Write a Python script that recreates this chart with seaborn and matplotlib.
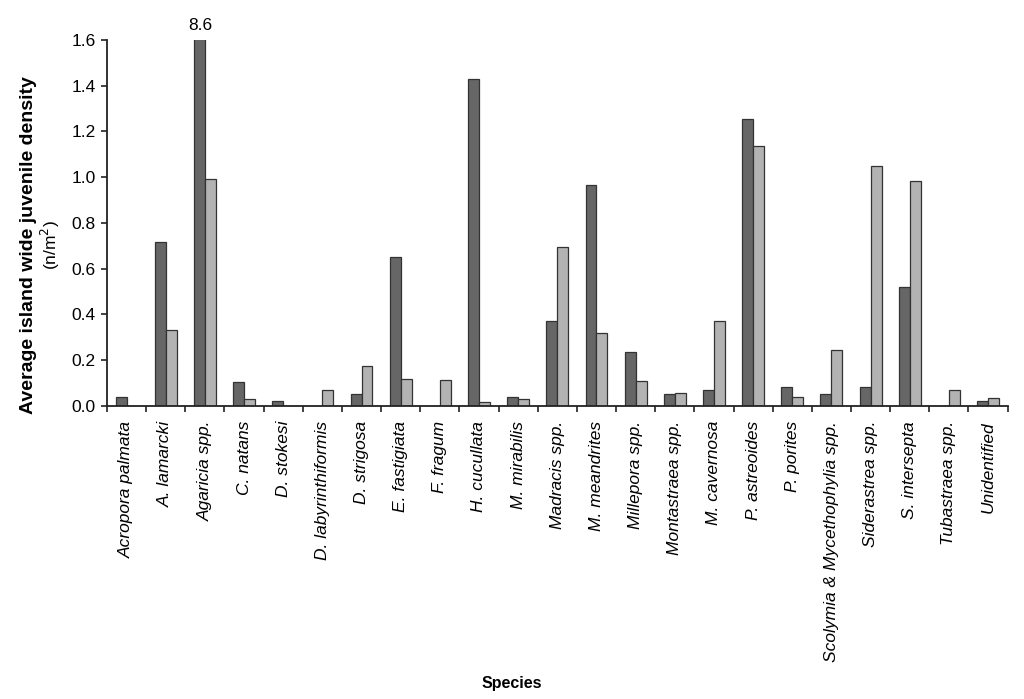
import matplotlib
matplotlib.use("Agg")
import matplotlib.pyplot as plt
import seaborn as sns
import pandas as pd
import numpy as np

species = ["Acropora palmata", "A. lamarcki", "Agaricia spp.", "C. natans", "D. stokesi",
           "D. labyrinthiformis", "D. strigosa", "E. fastigiata", "F. fragum", "H. cucullata",
           "M. mirabilis", "Madracis spp.", "M. meandrites", "Millepora spp.", "Montastraea spp.",
           "M. cavernosa", "P. astreoides", "P. porites", "Scolymia & Mycethophylia spp.",
           "Siderastrea spp.", "S. intersepta", "Tubastraea spp.", "Unidentified"]
series1 = [0.037, 0.716, 8.6, 0.104, 0.019, 0.0, 0.051, 0.652, 0.0, 1.43,
           0.037, 0.369, 0.965, 0.236, 0.051, 0.070, 1.253, 0.082, 0.051,
           0.083, 0.519, 0.0, 0.020]
series2 = [0.0, 0.330, 0.992, 0.031, 0.0, 0.070, 0.172, 0.117, 0.114, 0.015,
           0.029, 0.696, 0.319, 0.107, 0.056, 0.372, 1.136, 0.039, 0.242,
           1.050, 0.984, 0.067, 0.034]
series_names = ["Series 1", "Series 2"]
yticks = [0.0, 0.2, 0.4, 0.6, 0.8, 1.0, 1.2, 1.4, 1.6]

df = pd.DataFrame({
    "Species": species * 2,
    "Density": series1 + series2,
    "Series": [series_names[0]] * len(species) + [series_names[1]] * len(species),
})

sns.set_theme(style="white")
plt.rcParams["font.family"] = ["Liberation Sans", "DejaVu Sans"]
plt.rcParams["text.color"] = "black"
plt.rcParams["xtick.color"] = "black"
plt.rcParams["ytick.color"] = "black"
plt.rcParams["axes.labelcolor"] = "black"

fig = plt.figure(figsize=(10.24, 6.99), dpi=100)
ax = fig.add_axes([0.1045, 0.4196, 0.8795, 0.5232])

sns.barplot(data=df, x="Species", y="Density", hue="Series", order=species,
            hue_order=series_names, palette=["#666666", "#b3b3b3"],
            width=0.56, edgecolor="#333333", linewidth=0.9, ax=ax, legend=False)

ax.set_ylim(0, 1.6)
ax.set_xlim(-0.5, len(species) - 0.5)
ax.set_yticks(yticks)
ax.set_yticklabels([f"{v:.1f}" for v in yticks], fontsize=12.5)
ax.set_xticks(range(len(species)))
ax.set_xticklabels(species, rotation=90, fontsize=12.5, fontstyle="italic", va="top")
ax.tick_params(axis="x", which="major", length=0, pad=11)
ax.set_xticks(np.arange(-0.5, len(species), 1.0), minor=True)
ax.tick_params(axis="x", which="minor", length=4, width=1.2, direction="out", color="#222222", bottom=True)
ax.tick_params(axis="y", length=4, width=1.2, direction="out", color="#222222", left=True, pad=4)

for s in ["top", "right"]:
    ax.spines[s].set_visible(False)
for s in ["left", "bottom"]:
    ax.spines[s].set_color("#222222")
    ax.spines[s].set_linewidth(1.3)

ax.set_xlabel("")
ax.set_ylabel("")

# label for clipped bar
bar = ax.containers[0][2]
bx = bar.get_x() + bar.get_width() / 2
ax.annotate(f"{series1[2]:.1f}", xy=(bx, 1.6), xytext=(1, 5), textcoords="offset points",
            ha="center", va="bottom", fontsize=12.5, annotation_clip=False)

fig.text(0.028, 0.649, "Average island wide juvenile density", rotation=90,
         ha="center", va="center", fontsize=14, fontweight="bold")
fig.text(0.049, 0.649, "(n/m$^2$)", rotation=90, ha="center", va="center", fontsize=12.5)
fig.text(0.5, 0.022, "Species", ha="center", va="center", fontsize=11.5, fontweight="bold")

fig.savefig("out.png", dpi=100)
